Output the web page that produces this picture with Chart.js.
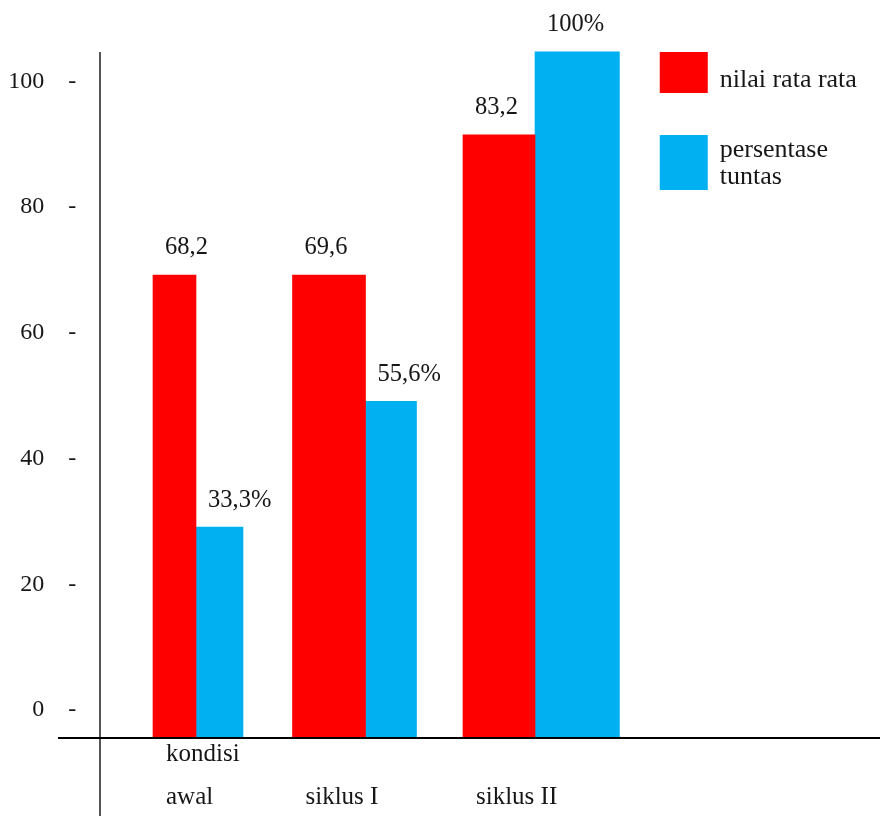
<!DOCTYPE html>
<html>
<head>
<meta charset="utf-8">
<script src="https://cdn.jsdelivr.net/npm/chart.js@4.4.1/dist/chart.umd.min.js"></script>
<style>html,body{margin:0;padding:0;background:#fff}canvas{display:block}</style>
</head>
<body>
<canvas id="c" width="880" height="816"></canvas>
<script>
// ---- data ----
const categories = [['kondisi', 'awal'], ['siklus I'], ['siklus II']];
const nilaiRataRata = [69.2, 69.2, 91.5];      // bar heights against the y axis
const persentaseTuntas = [29.1, 49.1, 104.7];  // bar heights against the y axis
const nilaiLabels = ['68,2', '69,6', '83,2'];
const persenLabels = ['33,3%', '55,6%', '100%'];
const yTicks = [0, 20, 40, 60, 80, 100];
const seriesNames = [['nilai rata rata'], ['persentase', 'tuntas']];

// ---- styles / layout ----
const RED = '#FF0000', BLUE = '#00B0F0', INK = '#161616';
const redWidths = [43, 73, 72], blueWidths = [47, 51, 87];
const Y_MIN = -4.45, Y_MAX = 112;
const SERIF = '"Liberation Serif", "DejaVu Serif", serif';

function single(values, i) { return values.map((v, j) => (j === i ? v : null)); }

const datasets = [];
categories.forEach((c, i) => datasets.push({
  label: seriesNames[0].join(' '), series: 0, data: single(nilaiRataRata, i),
  backgroundColor: RED, barThickness: redWidths[i], skipNull: true, base: Y_MIN,
  valueLabels: nilaiLabels
}));
categories.forEach((c, i) => datasets.push({
  label: seriesNames[1].join(' '), series: 1, data: single(persentaseTuntas, i),
  backgroundColor: BLUE, barThickness: blueWidths[i], skipNull: true, base: Y_MIN,
  valueLabels: persenLabels
}));

const decor = {
  id: 'decor',
  afterDatasetsDraw(chart) {
    const ctx = chart.ctx, ca = chart.chartArea;
    ctx.save();
    // axis lines
    ctx.lineWidth = 2;
    ctx.strokeStyle = '#555';
    const ax = Math.round(ca.left - 11);
    ctx.beginPath(); ctx.moveTo(ax, 52); ctx.lineTo(ax, chart.height); ctx.stroke();
    ctx.strokeStyle = '#000';
    ctx.beginPath(); ctx.moveTo(58, ca.bottom); ctx.lineTo(chart.width, ca.bottom); ctx.stroke();

    // value labels + category labels
    ctx.fillStyle = INK; ctx.textAlign = 'left'; ctx.textBaseline = 'middle';
    chart.data.datasets.forEach((ds, di) => {
      const meta = chart.getDatasetMeta(di);
      meta.data.forEach((el, i) => {
        if (ds.data[i] == null) return;
        const left = el.x - el.width / 2;
        ctx.font = '24.5px ' + SERIF;
        ctx.fillText(ds.valueLabels[i], left + 12, el.y - 27);
        if (ds.series === 0) {
          const lines = categories[i];
          ctx.font = '25px ' + SERIF;
          lines.forEach((t, k) => ctx.fillText(t, left + 13, 797 - (lines.length - 1 - k) * 43));
        }
      });
    });

    // legend
    const lx = ca.right + 40;
    ctx.font = '26px ' + SERIF;
    ctx.fillStyle = RED; ctx.fillRect(lx, 52, 48, 41);
    ctx.fillStyle = BLUE; ctx.fillRect(lx, 135, 48, 55);
    ctx.fillStyle = INK;
    seriesNames[0].forEach((t, k) => ctx.fillText(t, lx + 60, 80 + k * 27));
    seriesNames[1].forEach((t, k) => ctx.fillText(t, lx + 60, 150 + k * 27));
    ctx.restore();
  }
};

new Chart(document.getElementById('c'), {
  type: 'bar',
  data: { labels: categories.map(c => c.join(' ')), datasets },
  options: {
    responsive: false,
    animation: false,
    events: [],
    layout: { padding: { left: 0, right: 260.25, top: 6, bottom: 78 } },
    plugins: { legend: { display: false }, tooltip: { enabled: false } },
    scales: {
      x: { display: false, offset: true },
      y: {
        min: Y_MIN, max: Y_MAX,
        grid: { display: false, drawTicks: false },
        border: { display: false },
        afterBuildTicks: (axis) => { axis.ticks = yTicks.map(v => ({ value: v })); },
        afterFit: (axis) => {
          axis.width = 111.25;
          axis.paddingTop = 0; axis.paddingBottom = 0;
        },
        ticks: {
          padding: 35,
          color: INK,
          font: { family: SERIF, size: 24 },
          callback: (v) => v + '    -'
        }
      }
    }
  },
  plugins: [decor]
});
</script>
</body>
</html>
